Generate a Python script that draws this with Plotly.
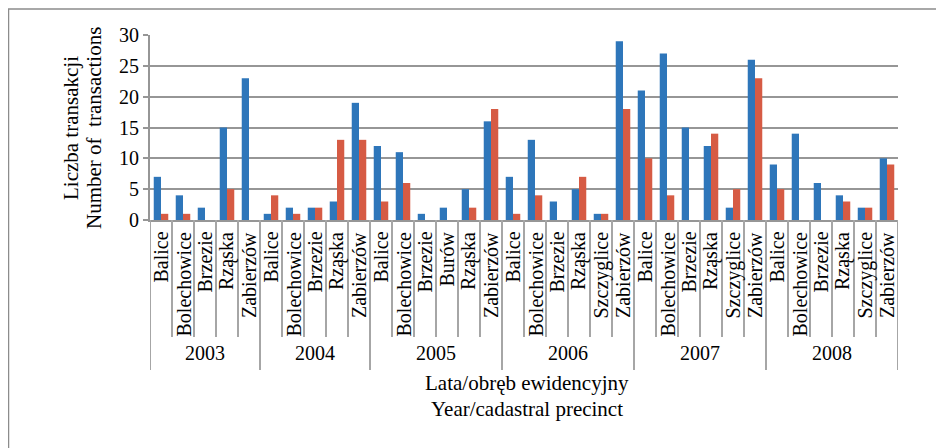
import plotly.graph_objects as go

years = ["2003", "2004", "2005", "2006", "2007", "2008"]
precincts = [
    ["Balice", "Bolechowice", "Brzezie", "Rząska", "Zabierzów"],
    ["Balice", "Bolechowice", "Brzezie", "Rząska", "Zabierzów"],
    ["Balice", "Bolechowice", "Brzezie", "Burów", "Rząska", "Zabierzów"],
    ["Balice", "Bolechowice", "Brzezie", "Rząska", "Szczyglice", "Zabierzów"],
    ["Balice", "Bolechowice", "Brzezie", "Rząska", "Szczyglice", "Zabierzów"],
    ["Balice", "Bolechowice", "Brzezie", "Rząska", "Szczyglice", "Zabierzów"],
]
series_blue = [7, 4, 2, 15, 23,
               1, 2, 2, 3, 19,
               12, 11, 1, 2, 5, 16,
               7, 13, 3, 5, 1, 29,
               21, 27, 15, 12, 2, 26,
               9, 14, 6, 4, 2, 10]
series_red = [1, 1, 0, 5, 0,
              4, 1, 2, 13, 13,
              3, 6, 0, 0, 2, 18,
              1, 4, 0, 7, 1, 18,
              10, 4, 0, 14, 5, 23,
              5, 0, 0, 3, 2, 9]
y_ticks = [0, 5, 10, 15, 20, 25, 30]

names = [n for grp in precincts for n in grp]
xs = list(range(len(names)))

FONT = "Liberation Serif"
GRAY = "#969696"
OFF = 8  # page body margin

# screen-pixel plot area: x 150..898, y 35..220
SL, SR, ST, SB = 150, 898, 35, 220
L, R_, T, B = SL - OFF, SR - OFF, ST - OFF, SB - OFF
def py(p):
    return (SB - p) / (SB - ST)
def px(p):
    return (p - SL) / (SR - SL)

fig = go.Figure()
fig.add_trace(go.Bar(x=xs, y=series_blue, marker=dict(color="#2E76BA", line=dict(width=0))))
fig.add_trace(go.Bar(x=xs, y=series_red, marker=dict(color="#D65B44", line=dict(width=0))))

shapes = []
annotations = []
for i, n in enumerate(names):
    annotations.append(dict(x=i, y=py(230), xref="x", yref="paper", text=n, textangle=-90,
                            xanchor="center", yanchor="top", showarrow=False,
                            font=dict(family=FONT, size=20, color="#000")))
bounds = [0]
for grp in precincts:
    bounds.append(bounds[-1] + len(grp))
for i in range(len(names) + 1):
    is_year = i in bounds
    shapes.append(dict(type="line", xref="x", yref="paper", x0=i - 0.5, x1=i - 0.5,
                       y0=0, y1=py(370) if is_year else py(337),
                       line=dict(color="#A6A6A6", width=2)))
for k, yr in enumerate(years):
    c = (bounds[k] + bounds[k + 1] - 1) / 2
    annotations.append(dict(x=c, y=py(353), xref="x", yref="paper", text=yr, showarrow=False,
                            xanchor="center", yanchor="middle",
                            font=dict(family=FONT, size=20, color="#000")))
annotations.append(dict(x=px(527), y=py(383), xref="paper", yref="paper",
                        text="Lata/obręb ewidencyjny", showarrow=False, xanchor="center", yanchor="middle",
                        font=dict(family=FONT, size=21, color="#000")))
annotations.append(dict(x=px(527), y=py(409), xref="paper", yref="paper",
                        text="Year/cadastral precinct", showarrow=False, xanchor="center", yanchor="middle",
                        font=dict(family=FONT, size=21, color="#000")))
annotations.append(dict(x=px(71), y=py(128), xref="paper", yref="paper", textangle=-90,
                        text="Liczba transakcji", showarrow=False, xanchor="center", yanchor="middle",
                        font=dict(family=FONT, size=21, color="#000")))
annotations.append(dict(x=px(94), y=py(128), xref="paper", yref="paper", textangle=-90,
                        text="Number of  transactions", showarrow=False, xanchor="center", yanchor="middle",
                        font=dict(family=FONT, size=21, color="#000")))
shapes.append(dict(type="rect", xref="paper", yref="paper", x0=px(8.5), x1=px(960), y0=py(9), y1=py(470),
                   line=dict(color="#8C8C8C", width=1.5), fillcolor="rgba(0,0,0,0)", layer="below"))

fig.update_layout(
    width=944, height=448,
    margin=dict(l=L, r=944 - R_, t=T, b=448 - B),
    paper_bgcolor="white", plot_bgcolor="white",
    barmode="group", bargap=0.34, bargroupgap=0,
    showlegend=False,
    shapes=shapes, annotations=annotations,
    font=dict(family=FONT, color="#000"),
    xaxis=dict(range=[-0.5, len(names) - 0.5], showticklabels=False, showgrid=False, zeroline=False,
               showline=True, linecolor=GRAY, linewidth=2, ticks=""),
    yaxis=dict(range=[0, 30], tickvals=y_ticks, showgrid=True, gridcolor=GRAY, gridwidth=2,
               zeroline=False, showline=True, linecolor=GRAY, linewidth=2,
               ticks="outside", ticklen=5, tickcolor=GRAY, tickwidth=1.5,
               tickfont=dict(family=FONT, size=20, color="#000")),
)
fig.write_html("out.html")
